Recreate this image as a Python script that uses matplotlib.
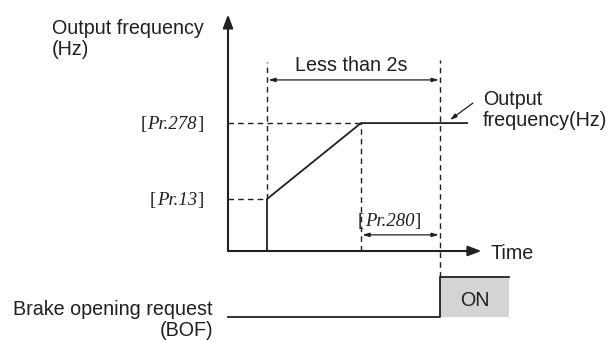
import matplotlib.pyplot as plt
from matplotlib.patches import Rectangle

# timing points (time units, origin at the frequency axis)
t_step = 1.0        # output starts
t_ramp_end = 3.41   # Pr.278 reached
t_brake = 5.44      # brake opening request ON
t_line_end = 6.13
t_axis_end = 6.5
t_on_end = 7.2

# frequency levels
f_pr13 = 2.0
f_pr278 = 4.92
f_axis_top = 9.1

# BOF signal levels (drawn below the time axis)
bof_off = -2.55
bof_on = -1.0

sig_t = [0, t_step, t_step, t_ramp_end, t_line_end]
sig_f = [0, 0, f_pr13, f_pr278, f_pr278]
bof_t = [0, t_brake, t_brake, t_on_end]
bof_f = [bof_off, bof_off, bof_on, bof_on]

ink = '#231f20'
sans = 'Liberation Sans'
serif = 'Liberation Serif'
fs = 14.2
fs_pr = 13.5

fig = plt.figure(figsize=(6.07, 3.40), dpi=100)
ax = fig.add_axes([0, 0, 1, 1])
ax.set_xlim(-228 / 39, (607 - 228) / 39)
ax.set_ylim(-89 / 26, 251 / 26)
ax.axis('off')


def pr_label(x, y, name, ha):
    # italic parameter name with upright brackets around it
    t = ax.text(x, y, name, family=serif, style='italic', fontsize=fs_pr, ha=ha,
                va='baseline', color=ink)
    ax.annotate('[', xy=(0, 0), xycoords=t, xytext=(-0.5, 0), textcoords='offset points',
                family=serif, fontsize=fs_pr, ha='right', va='bottom', color=ink)
    ax.annotate(']', xy=(1, 0), xycoords=t, xytext=(0.3, 0), textcoords='offset points',
                family=serif, fontsize=fs_pr, ha='left', va='bottom', color=ink)


# axes with arrows
head = '-|>,head_length=0.8,head_width=0.3'
ax.annotate('', xy=(0, f_axis_top), xytext=(0, 0),
            arrowprops=dict(arrowstyle=head, color=ink, lw=1.5, shrinkA=0, shrinkB=0))
ax.annotate('', xy=(t_axis_end, 0), xytext=(0, 0),
            arrowprops=dict(arrowstyle=head, color=ink, lw=1.5, shrinkA=0, shrinkB=0))

# output frequency
ax.plot(sig_t, sig_f, color=ink, lw=1.3, solid_joinstyle='miter')

# dashed guides
dash = dict(color=ink, lw=1.0, dashes=(4, 3))
ax.plot([0, t_step], [f_pr13, f_pr13], **dash)
ax.plot([0, t_ramp_end], [f_pr278, f_pr278], **dash)
ax.plot([t_step, t_step], [f_pr13, 7.27], **dash)
ax.plot([t_ramp_end, t_ramp_end], [0, f_pr278], **dash)
ax.plot([t_brake, t_brake], [bof_on, 7.35], **dash)

# dimension arrows
dim = dict(arrowstyle='<|-|>,head_length=0.4,head_width=0.12', color=ink, lw=0.9, shrinkA=1, shrinkB=1)
ax.annotate('', xy=(t_step, 6.58), xytext=(t_brake, 6.58), arrowprops=dim)
ax.annotate('', xy=(t_ramp_end, 0.62), xytext=(t_brake, 0.62), arrowprops=dim)
ax.text((t_step + t_brake) / 2 - 0.05, 7.15, 'Less than 2s', family=sans, fontsize=fs,
        ha='center', va='center', color=ink)
pr_label(t_ramp_end + 0.1, 1.19 - 0.24, 'Pr.280', 'left')

# left labels
ax.text(-4.51, 8.15, 'Output frequency\n(Hz)', family=sans, fontsize=fs, ha='left', va='center',
        color=ink, linespacing=1.15)
pr_label(-0.8, f_pr278 - 0.24, 'Pr.278', 'right')
pr_label(-0.8, f_pr13 - 0.24, 'Pr.13', 'right')

# output frequency callout
ax.annotate('', xy=(5.69, 5.04), xytext=(6.28, 5.69),
            arrowprops=dict(arrowstyle='-|>,head_length=0.4,head_width=0.12', color=ink, lw=0.9,
                            shrinkA=0, shrinkB=0))
ax.text(6.54, 5.42, 'Output\nfrequency(Hz)', family=sans, fontsize=fs, ha='left', va='center',
        color=ink, linespacing=1.15)

ax.text(6.74, -0.08, 'Time', family=sans, fontsize=fs, ha='left', va='center', color=ink)

# brake opening request
ax.add_patch(Rectangle((t_brake, bof_off), t_on_end - t_brake, bof_on - bof_off,
                       facecolor='#d4d4d4', edgecolor='none'))
ax.plot(bof_t, bof_f, color=ink, lw=1.3)
ax.text((t_brake + t_on_end) / 2, (bof_off + bof_on) / 2 - 0.12, 'ON', family=sans,
        fontsize=fs, ha='center', va='center', color=ink)
ax.text(-0.385, -2.65, 'Brake opening request\n(BOF)', family=sans, fontsize=fs, ha='right',
        va='center', multialignment='right', color=ink, linespacing=1.15)

fig.savefig('out.png', dpi=100)
